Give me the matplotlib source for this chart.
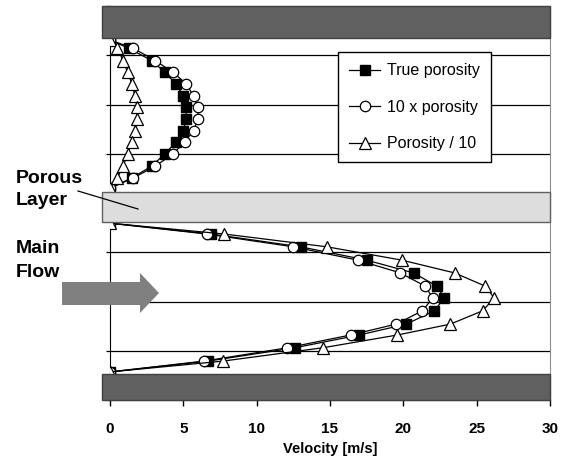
import numpy as np
import matplotlib
matplotlib.use('Agg')
import matplotlib.pyplot as plt
import matplotlib.patches as mpatches
from matplotlib.lines import Line2D

plt.rcParams['font.family'] = ['Liberation Sans', 'DejaVu Sans']

# channel heights (gridline units) and velocities
y_upper = [7.31, 7.14, 6.89, 6.65, 6.42, 6.17, 5.94, 5.71, 5.47, 5.24, 5.00, 4.75, 4.51, 4.30]
true_upper = [0, 1.3, 2.85, 3.75, 4.5, 5.0, 5.2, 5.2, 5.0, 4.5, 3.75, 2.85, 1.5, 0]
ten_upper = [0, 1.6, 3.1, 4.3, 5.2, 5.7, 6.0, 6.0, 5.7, 5.1, 4.3, 3.1, 1.6, 0]
tenth_upper = [0, 0.5, 0.9, 1.2, 1.5, 1.7, 1.85, 1.85, 1.7, 1.5, 1.2, 0.9, 0.5, 0]

y_lower = [3.59, 3.37, 3.11, 2.84, 2.58, 2.31, 2.07, 1.81, 1.54, 1.32, 1.06, 0.79, 0.57]
true_lower = [0, 6.9, 13.0, 17.5, 20.7, 22.3, 22.8, 22.1, 20.2, 17.0, 12.6, 6.7, 0]
ten_lower = [0, 6.6, 12.5, 16.9, 19.8, 21.5, 22.0, 21.3, 19.5, 16.4, 12.1, 6.4, 0]
tenth_lower = [0, 7.8, 14.8, 19.9, 23.5, 25.6, 26.2, 25.4, 23.2, 19.6, 14.5, 7.7, 0]

x_ticks = [0, 5, 10, 15, 20, 25, 30]

# solid walls and porous layer (y ranges)
top_wall = (7.35, 8.0)
porous = (3.614, 4.223)
bottom_wall = (0.0, 0.528)

W, H = 563, 459
fig = plt.figure(figsize=(W / 100, H / 100), dpi=100)
ax = fig.add_axes([110 / W, 1 - 400 / H, 440 / W, 394 / H])

y_all = np.concatenate([y_upper, y_lower])
ax.plot(np.concatenate([true_upper, true_lower]), y_all, color='black', lw=0.9,
        marker='s', ms=6.5, mfc='black', mec='black', zorder=3, label='True porosity')
ax.plot(np.concatenate([ten_upper, ten_lower]), y_all, color='black', lw=0.9,
        marker='o', ms=7.5, mfc='white', mec='black', mew=0.9, zorder=3, label='10 x porosity')
ax.plot(np.concatenate([tenth_upper, tenth_lower]), y_all, color='black', lw=0.9,
        marker='^', ms=8, mfc='white', mec='black', mew=0.9, zorder=3, label='Porosity / 10')

for (y0, y1), fc, ec in [(top_wall, '#606060', '#404040'),
                         (porous, '#DDDDDD', '#606060'),
                         (bottom_wall, '#606060', '#404040')]:
    ax.add_patch(mpatches.Rectangle((-0.55, y0), 30.55, y1 - y0, fc=fc, ec=ec, lw=1,
                                    zorder=5, clip_on=False))

ax.set_xlim(0, 30)
ax.set_ylim(0, 8)
ax.set_xticks(x_ticks)
ax.set_xticklabels([str(t) for t in x_ticks], fontweight='bold')
ax.set_yticks(range(0, 9))
ax.set_yticklabels([])
ax.grid(axis='y', color='black', lw=0.9)
ax.set_axisbelow(True)
ax.tick_params(axis='x', direction='out', length=4, width=1, pad=12, labelsize=11)
ax.tick_params(axis='y', direction='out', length=3, width=0.9)
for s in ['left', 'bottom']:
    ax.spines[s].set_color('black')
for s in ['right', 'top']:
    ax.spines[s].set_color('#909090')
ax.set_xlabel('Velocity [m/s]', fontsize=10.5, fontweight='bold', labelpad=4)

leg = ax.legend(loc='upper left', bbox_to_anchor=(338 / W, 1 - 52 / H), bbox_transform=fig.transFigure,
                fancybox=False, edgecolor='black', framealpha=1, fontsize=11.5, borderaxespad=0,
                handlelength=1.95, handletextpad=0.4, labelspacing=1.35, borderpad=0.7, numpoints=1)
leg.get_frame().set_linewidth(1)
leg.set_zorder(10)

# side labels, pointer line and flow arrow (figure pixels)
def fx(px):
    return px / W

def fy(py):
    return 1 - py / H

for txt, base in [('Porous', 183), ('Layer', 205), ('Main', 253), ('Flow', 277)]:
    fig.text(fx(16), fy(base), txt, fontsize=14, fontweight='bold', va='baseline', ha='left')

fig.add_artist(Line2D([fx(78), fx(138)], [fy(191), fy(209)], color='black', lw=0.9, zorder=6))

arrow_px = [(62, 282), (140, 282), (140, 273), (159, 293), (140, 313), (140, 305), (62, 305)]
fig.add_artist(mpatches.Polygon([(fx(a), fy(b)) for a, b in arrow_px], closed=True,
                                fc='#808080', ec='none', transform=fig.transFigure))

fig.savefig('out.png', dpi=100)
